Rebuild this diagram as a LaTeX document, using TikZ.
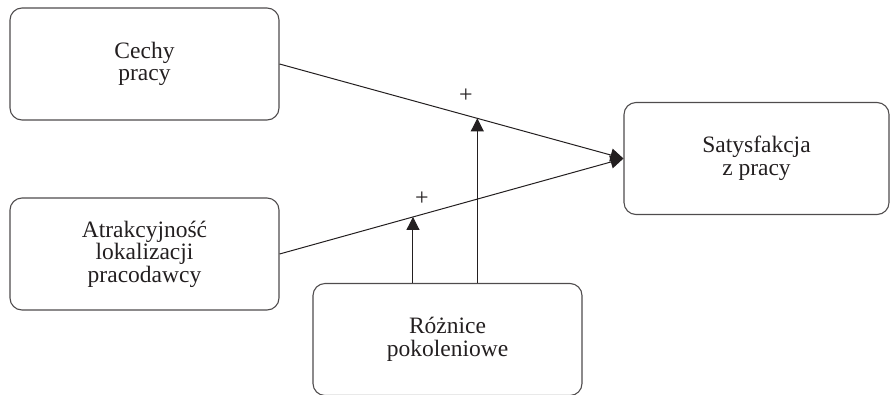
\documentclass[tikz,border=0pt]{standalone}
\usepackage{fontspec}
\setmainfont{Liberation Serif}
\usetikzlibrary{arrows.meta}
\definecolor{ink}{RGB}{35,31,32}
\begin{document}
\begin{tikzpicture}[x=1pt,y=-1pt,
  box/.style={draw=ink!80, line width=1.1pt, rounded corners=12pt, minimum width=269pt, minimum height=112pt, text=ink, inner sep=0pt, align=center, font=\fontsize{23.5}{22.5}\selectfont},
  conn/.style={draw=ink, line width=1pt},
  tip/.style={-{Triangle[length=13pt,width=13pt]}},
  plus/.style={text=ink, font=\fontsize{24}{24}\selectfont, inner sep=0pt}]
\useasboundingbox (0,0) rectangle (890,394);
\node[box] (cechy) at (144.5,64) {Cechy\\pracy};
\node[box] (atrak) at (144.5,254) {Atrakcyjność\\lokalizacji\\pracodawcy};
\node[box, minimum width=265pt, minimum height=112pt] (sat) at (756.5,158.5) {Satysfakcja\\z pracy};
\node[box] (roz) at (447.5,339.5) {Różnice\\pokoleniowe};
\draw[conn, tip] (cechy.east) -- node[coordinate, pos=0.575] (m1) {} (sat.west);
\draw[conn, tip] (atrak.east) -- node[coordinate, pos=0.388] (m2) {} (sat.west);
\draw[conn, tip] (roz.north -| m1) -- (m1);
\draw[conn, tip] (roz.north -| m2) -- (m2);
\node[plus] (p1) at (466,96) {+};
\node[plus] (p2) at (422,199) {+};
\end{tikzpicture}
\end{document}
